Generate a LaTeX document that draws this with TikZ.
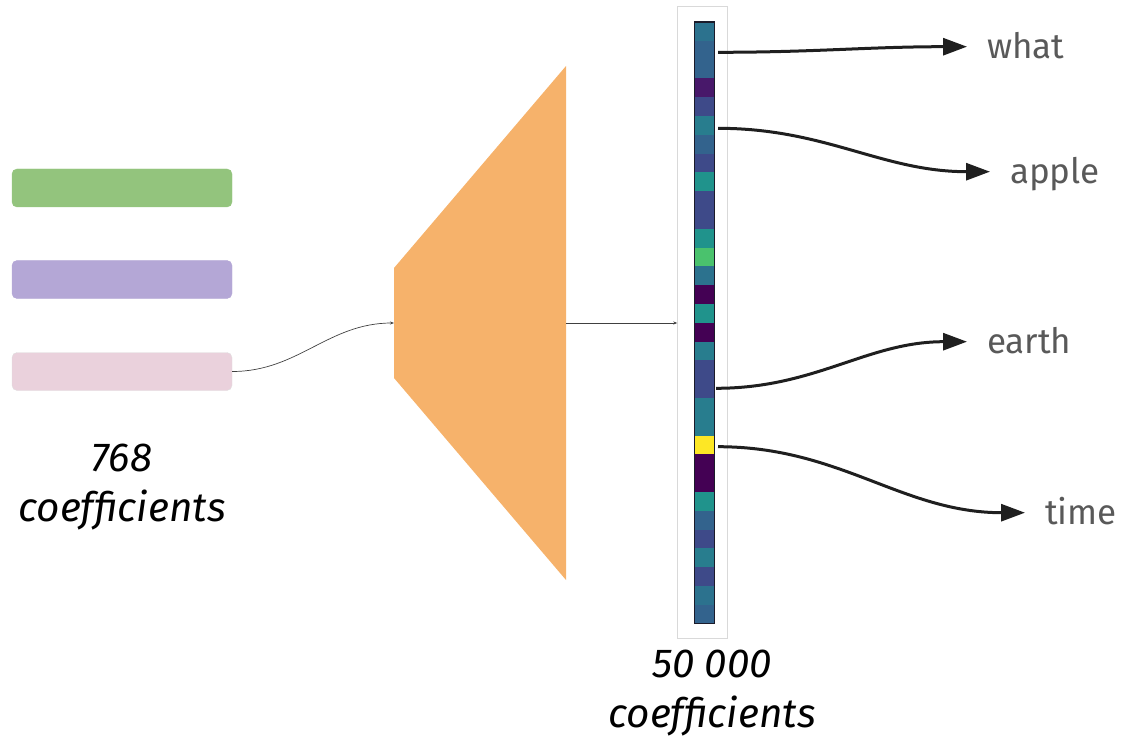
\documentclass[tikz,border=0pt]{standalone}
\usepackage{fontspec}
\setmainfont{Fira Sans}
\usetikzlibrary{arrows.meta}
\definecolor{cGreen}{HTML}{93C47D}
\definecolor{cPurple}{HTML}{B4A7D6}
\definecolor{cPink}{HTML}{EAD1DC}
\definecolor{cOrange}{HTML}{F6B26B}
\definecolor{frameGray}{HTML}{D9D9D9}
\definecolor{barEdge}{HTML}{1B1B2A}
\definecolor{lblGray}{HTML}{595959}
\definecolor{arrGray}{HTML}{1F1F1F}
\definecolor{vA}{HTML}{2C728E}
\definecolor{vB}{HTML}{33638D}
\definecolor{vC}{HTML}{48186A}
\definecolor{vD}{HTML}{3E4A89}
\definecolor{vE}{HTML}{287D8E}
\definecolor{vF}{HTML}{20938C}
\definecolor{vG}{HTML}{4AC26D}
\definecolor{vH}{HTML}{440154}
\definecolor{vY}{HTML}{FDE725}
\tikzset{
  inbar/.style={rectangle, rounded corners=5pt, minimum width=220pt, minimum height=38pt, inner sep=0pt},
  thinarr/.style={draw=black!75, line width=0.7pt, -{Stealth[length=4pt,width=3pt]}},
  bigarr/.style={draw=arrGray, line width=3pt, -{Triangle[length=24pt,width=17pt]}},
  wordlbl/.style={anchor=west, inner sep=0pt, outer xsep=20pt, text=lblGray,
    font=\fontsize{35}{40}\selectfont, text height=23pt, text depth=0pt},
  coef/.style={align=center, inner sep=0pt, font=\fontsize{40.5}{50}\selectfont\itshape}
}
\begin{document}
\begin{tikzpicture}[x=1pt,y=-1pt]
\useasboundingbox (0,0) rectangle (1130,738);
% input vectors
\node[inbar, fill=cGreen, draw=cGreen] (g) at (122,188) {};
\node[inbar, fill=cPurple, draw=cPurple] (p) at (122,279.5) {};
\node[inbar, fill=cPink, draw=black!12] (k) at (122,371.5) {};
\node[coef] (c1) at (122,487) {768\\coefficients};
% trapezoid
\fill[cOrange] (394,268) -- (566,66) -- (566,580) -- (394,378) -- cycle;
\coordinate (tl) at (394,323);
\coordinate (tr) at (566,323);
\draw[thinarr] (k.east) to[out=0,in=180] (tl);
% output vector
\node[draw=frameGray, fill=white, line width=0.8pt, minimum width=49.6pt, minimum height=631pt, inner sep=0pt] (frame) at (702.5,322.4) {};
\draw[thinarr] (tr) -- (frame.west |- tr);
\foreach \c [count=\i from 0] in {vA,vB,vB,vC,vD,vE,vB,vD,vF,vD,vD,vF,vG,vA,vH,vF,vH,vE,vD,vD,vE,vE,vY,vH,vH,vF,vB,vD,vE,vD,vA,vB}
  \fill[\c] (694.5,{22+\i*18.8}) rectangle (714.3,{22+(\i+1)*18.8+0.3});
\node[draw=barEdge, line width=1.5pt, minimum width=19.8pt, minimum height=601.6pt, inner sep=0pt] (vec) at (704.4,322.8) {};
\node[coef] (c2) at (712,693) {50 000\\coefficients};
% words
\node[wordlbl] (what) at (967,46.7) {what};
\node[wordlbl] (apple) at (990,171.7) {apple};
\node[wordlbl] (earth) at (967,341.7) {earth};
\node[wordlbl] (time) at (1025,512.7) {time};
\coordinate (s1) at (718,52.3);
\coordinate (s2) at (718,128.3);
\coordinate (s3) at (716,388.3);
\coordinate (s4) at (718,446.7);
\draw[bigarr] (s1) to[out=0,in=180] (what.west);
\draw[bigarr] (s2) to[out=0,in=180] (apple.west);
\draw[bigarr] (s3) to[out=0,in=180] (earth.west);
\draw[bigarr] (s4) to[out=0,in=180] (time.west);
\end{tikzpicture}
\end{document}
